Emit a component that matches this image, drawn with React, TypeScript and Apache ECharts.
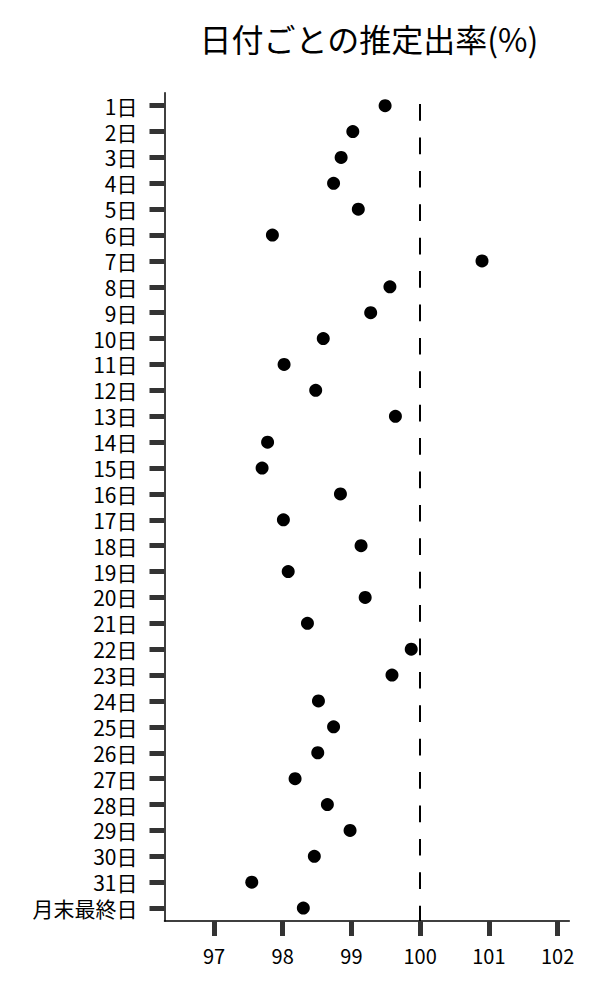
import * as echarts from 'echarts'
import { useEffect, useRef } from 'react'

// 日付ラベル(上から順)
const days = [
  '1日', '2日', '3日', '4日', '5日', '6日', '7日', '8日', '9日', '10日',
  '11日', '12日', '13日', '14日', '15日', '16日', '17日', '18日', '19日', '20日',
  '21日', '22日', '23日', '24日', '25日', '26日', '27日', '28日', '29日', '30日',
  '31日', '月末最終日',
]

// 推定出率(%)
const rates = [
  99.49, 99.02, 98.85, 98.74, 99.1, 97.85, 100.9, 99.56, 99.28, 98.59,
  98.02, 98.48, 99.64, 97.78, 97.7, 98.84, 98.01, 99.14, 98.08, 99.2,
  98.36, 99.87, 99.59, 98.52, 98.74, 98.51, 98.18, 98.65, 98.98, 98.46,
  97.55, 98.3,
]

const xTicks = [97, 98, 99, 100, 101, 102]
const refLine = 100

const FONT = '"Noto Sans CJK JP", "Noto Sans", sans-serif'

const App: React.FC = () => {
  const chartRef = useRef<HTMLDivElement>(null)

  useEffect(() => {
    document.body.style.margin = '0'
    if (!chartRef.current) return
    const chart = echarts.init(chartRef.current, null, { renderer: 'svg' })

    chart.setOption({
      animation: false,
      textStyle: { fontFamily: FONT },
      title: {
        text: '日付ごとの推定出率(%)',
        left: 369,
        top: 22,
        padding: 0,
        textAlign: 'center',
        textStyle: { fontFamily: FONT, fontSize: 32, fontWeight: 'normal', color: '#000' },
      },
      grid: { left: 164.5, right: 30.7, top: 92.7, bottom: 79 },
      xAxis: {
        type: 'value',
        min: 96.28,
        max: 102.17,
        splitLine: { show: false },
        axisLine: { show: true, lineStyle: { color: '#000', width: 1.5 } },
        axisTick: { show: true, length: 15, customValues: xTicks, lineStyle: { color: '#333', width: 5 } },
        axisLabel: { customValues: xTicks, fontSize: 20, color: '#000', margin: 24, fontFamily: FONT },
      },
      yAxis: {
        type: 'category',
        data: days,
        inverse: true,
        boundaryGap: true,
        axisLine: { show: true, lineStyle: { color: '#000', width: 1.5 } },
        axisTick: { show: true, interval: 0, alignWithLabel: true, length: 15, lineStyle: { color: '#333', width: 5 } },
        axisLabel: { interval: 0, fontSize: 21, lineHeight: 24, color: '#000', margin: 27, fontFamily: FONT },
      },
      series: [
        {
          type: 'scatter',
          data: rates.map((v, i) => [v, days[i]]),
          symbolSize: 13,
          itemStyle: { color: '#000', opacity: 1 },
          markLine: {
            silent: true,
            symbol: 'none',
            label: { show: false },
            lineStyle: { color: '#000', width: 2, type: [16.7, 16.7], dashOffset: 22.4 },
            data: [{ xAxis: refLine }],
          },
        },
      ],
    })

    return () => {
      chart.dispose()
    }
  }, [])

  return <div ref={chartRef} style={{ width: 600, height: 1000 }} />
}

export default App
